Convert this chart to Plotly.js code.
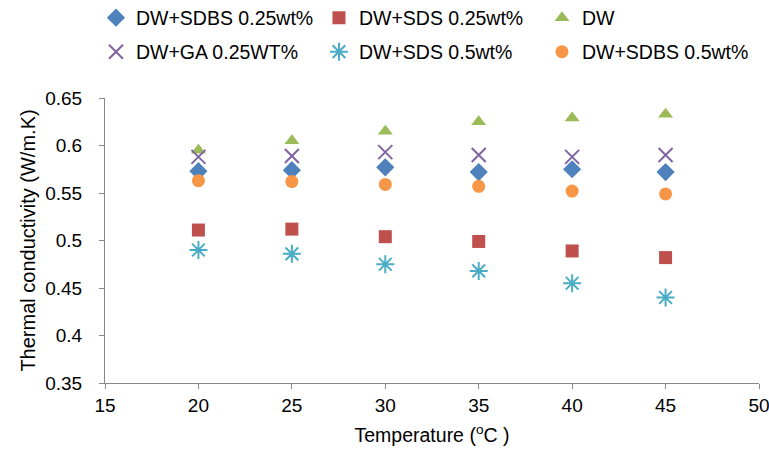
<!DOCTYPE html>
<html>
<head>
<meta charset="utf-8">
<script src="https://cdn.plot.ly/plotly-3.0.1.min.js"></script>
<style>html,body{margin:0;padding:0;background:#fff;}#chart{width:769px;height:461px;}</style>
</head>
<body>
<div id="chart"></div>
<script>
const temperature = [20, 25, 30, 35, 40, 45];
const seriesNames = ["DW+SDBS 0.25wt%", "DW+SDS 0.25wt%", "DW", "DW+GA 0.25WT%", "DW+SDS 0.5wt%", "DW+SDBS 0.5wt%"];
const sdbs025 = [0.573, 0.574, 0.577, 0.572, 0.575, 0.572];
const sds025 = [0.511, 0.512, 0.504, 0.499, 0.489, 0.482];
const dw = [0.595, 0.605, 0.615, 0.625, 0.629, 0.633];
const ga025 = [0.588, 0.589, 0.593, 0.590, 0.588, 0.590];
const sds05 = [0.490, 0.486, 0.475, 0.468, 0.455, 0.440];
const sdbs05 = [0.563, 0.562, 0.559, 0.557, 0.552, 0.549];
const xTicks = [15, 20, 25, 30, 35, 40, 45, 50];
const yTicks = [0.35, 0.4, 0.45, 0.5, 0.55, 0.6, 0.65];
const yTickText = ["0.35", "0.4", "0.45", "0.5", "0.55", "0.6", "0.65"];

const values = [sdbs025, sds025, dw, ga025, sds05, sdbs05];
const markers = [
  {symbol: "diamond", size: 14, color: "#4F81BD"},
  {symbol: "square", size: 13, color: "#C0504D"},
  {symbol: "triangle-up", size: 13, color: "#9BBB59"},
  {symbol: "x-thin-open", size: 14, color: "#8064A2", line: {color: "#8064A2", width: 2}},
  {symbol: "asterisk-open", size: 15, color: "#4BACC6", line: {color: "#4BACC6", width: 2}},
  {symbol: "circle", size: 13, color: "#F79646"}
];
const traces = values.map((v, i) => ({
  type: "scatter", mode: "markers", x: temperature, y: v, name: seriesNames[i],
  marker: markers[i], legend: i < 3 ? "legend" : "legend2"
}));

const font = "'Liberation Sans', 'DejaVu Sans', sans-serif";
const legendBase = {
  orientation: "h", x: -0.0138, xref: "paper", yref: "paper", yanchor: "middle", xanchor: "left",
  entrywidth: 178, entrywidthmode: "pixels",
  font: {family: font, size: 19.5, color: "#000"},
  itemwidth: 30, bgcolor: "rgba(0,0,0,0)"
};
const layout = {
  width: 769, height: 461,
  margin: {l: 105, r: 10, t: 98, b: 78, autoexpand: false},
  paper_bgcolor: "#fff", plot_bgcolor: "#fff",
  font: {family: font, size: 18, color: "#000"},
  showlegend: true,
  legend: Object.assign({}, legendBase, {y: 1.2807}),
  legend2: Object.assign({}, legendBase, {y: 1.1614}),
  xaxis: {
    range: [15, 50], tickvals: xTicks, ticktext: xTicks.map(String),
    showgrid: false, zeroline: false, showline: true, linecolor: "#888", linewidth: 1,
    ticks: "outside", ticklen: 5, tickcolor: "#888", ticklabeloverflow: "allow",
    tickfont: {size: 19},
    title: {text: "Temperature (<sup>o</sup>C )", font: {size: 19.5}, standoff: 13}
  },
  yaxis: {
    range: [0.35, 0.65], tickvals: yTicks, ticktext: yTickText,
    showgrid: false, zeroline: false, showline: true, linecolor: "#888", linewidth: 1,
    ticks: "outside", ticklen: 5, tickcolor: "#888", ticklabelstandoff: 13,
    tickfont: {size: 19},
    title: {text: "Thermal conductivity (W/m.K)", font: {size: 20}, standoff: 4}
  }
};
Plotly.newPlot("chart", traces, layout, {displayModeBar: false, staticPlot: true});
</script>
</body>
</html>
